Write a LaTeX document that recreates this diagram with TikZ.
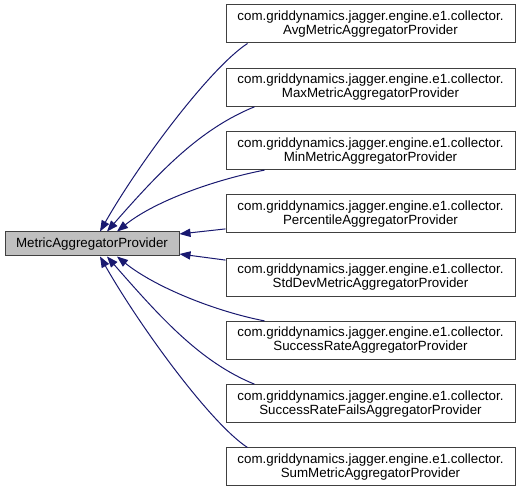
\documentclass[tikz,border=0pt]{standalone}
\usepackage{fontspec}
\setmainfont{Liberation Sans}
\usetikzlibrary{arrows.meta,calc}
\definecolor{edgeblue}{HTML}{191970}
\definecolor{boxgray}{HTML}{BFBFBF}
\definecolor{borderc}{HTML}{404040}
\tikzset{
  cls/.style={draw=borderc, line width=0.75pt, fill=white, minimum width=216.75pt, minimum height=28.5pt,
    inner sep=0pt, align=center, font=\fontsize{10}{10.5}\selectfont},
  rootbox/.style={draw=borderc, line width=0.75pt, fill=boxgray, minimum width=130.5pt, minimum height=18pt,
    inner sep=0pt, font=\fontsize{10}{10.5}\selectfont},
  inh/.style={draw=edgeblue, line width=0.75pt, -{Triangle[length=8.25pt,width=6.2pt,fill=edgeblue]}}
}
\begin{document}
\begin{tikzpicture}[x=0.75pt,y=-0.75pt]
\useasboundingbox (0,0) rectangle (519,488);
\node[rootbox] (root) at (92,244) {MetricAggregatorProvider};
\node[cls] (c1) at (370.5,24) {com.griddynamics.jagger.engine.e1.collector.\\AvgMetricAggregatorProvider};
\node[cls] (c2) at (370.5,87.3) {com.griddynamics.jagger.engine.e1.collector.\\MaxMetricAggregatorProvider};
\node[cls] (c3) at (370.5,150.6) {com.griddynamics.jagger.engine.e1.collector.\\MinMetricAggregatorProvider};
\node[cls] (c4) at (370.5,213.9) {com.griddynamics.jagger.engine.e1.collector.\\PercentileAggregatorProvider};
\node[cls] (c5) at (370.5,277.1) {com.griddynamics.jagger.engine.e1.collector.\\StdDevMetricAggregatorProvider};
\node[cls] (c6) at (370.5,340.4) {com.griddynamics.jagger.engine.e1.collector.\\SuccessRateAggregatorProvider};
\node[cls] (c7) at (370.5,403.7) {com.griddynamics.jagger.engine.e1.collector.\\SuccessRateFailsAggregatorProvider};
\node[cls] (c8) at (370.5,467) {com.griddynamics.jagger.engine.e1.collector.\\SumMetricAggregatorProvider};

\draw[inh] ($(c1.south west)+(22,0)$) .. controls (210.6,67.5) and (140,161.3) .. ($(root.north)+(8,0)$);
\draw[inh] ($(c2.south west)+(29,0)$) .. controls (200,129) and (160,171) .. ($(root.north)+(15,0)$);
\draw[inh] ($(c3.south west)+(39,0)$) .. controls (216,179.5) and (155.5,200.5) .. ($(root.north)+(25,0)$);
\draw[inh] ($(c4.west)+(0,15)$) -- ($(root.east)+(0,-10)$);
\draw[inh] ($(c5.west)+(0,-17)$) -- ($(root.east)+(0,10)$);
\draw[inh] ($(c6.north west)+(39,0)$) .. controls (216,311.5) and (155.5,287.5) .. ($(root.south)+(25,0)$);
\draw[inh] ($(c7.north west)+(29,0)$) .. controls (200,362) and (160,317) .. ($(root.south)+(15,0)$);
\draw[inh] ($(c8.north west)+(22,0)$) .. controls (210.6,423.5) and (140,326.7) .. ($(root.south)+(8,0)$);
\end{tikzpicture}
\end{document}
